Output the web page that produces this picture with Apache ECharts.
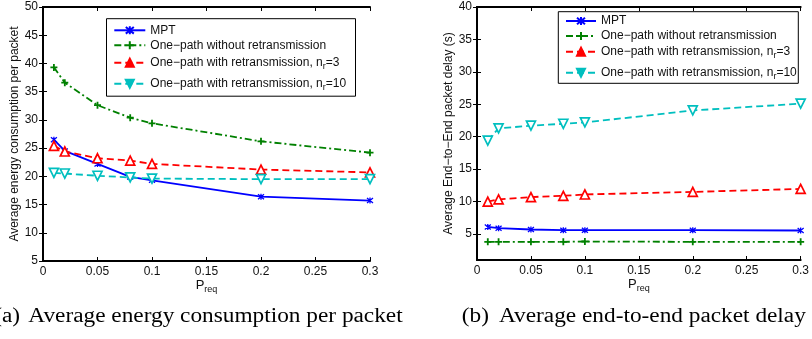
<!DOCTYPE html>
<html><head><meta charset="utf-8">
<script src="https://cdn.jsdelivr.net/npm/echarts@6/dist/echarts.min.js"></script>
<style>html,body{margin:0;padding:0;background:#fff}#c{width:812px;height:339px}</style>
</head><body><div id="c"></div>
<script>
// ---- data ----
const pReq = [0.01, 0.02, 0.05, 0.08, 0.1, 0.2, 0.3];
const seriesNames = ['MPT', 'One−path without retransmission', 'One−path with retransmission, nr=3', 'One−path with retransmission, nr=10'];
const energyMPT = [26.5, 24.5, 22.2, 19.9, 19.3, 16.4, 15.7];
const energyNoRetx = [39.3, 36.6, 32.6, 30.4, 29.4, 26.2, 24.2];
const energyRetx3 = [25.4, 24.4, 23.2, 22.8, 22.2, 21.2, 20.7];
const energyRetx10 = [20.6, 20.5, 20.1, 19.8, 19.6, 19.5, 19.5];
const delayMPT = [6.1, 5.9, 5.7, 5.6, 5.6, 5.6, 5.55];
const delayNoRetx = [3.8, 3.8, 3.8, 3.8, 3.85, 3.8, 3.8];
const delayRetx3 = [10.0, 10.35, 10.7, 10.9, 11.1, 11.5, 11.95];
const delayRetx10 = [19.4, 21.3, 21.7, 22.0, 22.2, 24.05, 25.1];
const energyTicks = [5, 10, 15, 20, 25, 30, 35, 40, 45, 50];
const delayTicks = [5, 10, 15, 20, 25, 30, 35, 40];
const yNames = ['Average energy consumption per packet', 'Average End−to−End packet delay (s)'];
const captionLabels = ['(a)', '(b)'];
const captionTitles = ['Average energy consumption per packet', 'Average end-to-end packet delay'];

// ---- styles / layout ----
const FONT = 'Liberation Sans, Arial, Helvetica, sans-serif';
const SERIF = '20px "Liberation Serif", "Times New Roman", serif';
const colors = ['#0000ff', '#008000', '#ff0000', '#00bfbf'];
const asterisk = 'path://M0,0L10,10M10,0L0,10M5,-1L5,11';
const plus = 'path://M5,0L5,10M0,5L10,5';
const LW = 1.8;
const styleDefs = [
  { symbol: asterisk, symbolSize: 6, rotate: 0, line: { type: 'solid' }, item: { color: colors[0], borderColor: colors[0], borderWidth: 1.3 } },
  { symbol: plus, symbolSize: 7, rotate: 0, line: { type: [7, 3, 2, 3] }, item: { color: colors[1], borderColor: colors[1], borderWidth: 1.8 } },
  { symbol: 'triangle', symbolSize: 9, rotate: 0, line: { type: [7, 4] }, item: { color: '#fff', borderColor: colors[2], borderWidth: 1.7 } },
  { symbol: 'triangle', symbolSize: 9, rotate: 180, line: { type: [7, 4] }, item: { color: '#fff', borderColor: colors[3], borderWidth: 1.7 } }
];

const energySets = [energyMPT, energyNoRetx, energyRetx3, energyRetx10];
const delaySets = [delayMPT, delayNoRetx, delayRetx3, delayRetx10];

function makeSeries(sets, xi, yi) {
  return sets.map((vals, k) => ({
    name: seriesNames[k],
    type: 'line',
    xAxisIndex: xi, yAxisIndex: yi,
    data: pReq.map((x, i) => [x, vals[i]]),
    symbol: styleDefs[k].symbol,
    symbolSize: styleDefs[k].symbolSize,
    symbolRotate: styleDefs[k].rotate,
    showSymbol: true,
    lineStyle: Object.assign({ color: colors[k], width: LW }, styleDefs[k].line),
    itemStyle: styleDefs[k].item,
    emphasis: { disabled: true },
    animation: false
  }));
}

const grids = [
  { left: 43, top: 7, width: 327, height: 254 },
  { left: 477, top: 7, width: 327, height: 253 }
];

const axisLineStyle = { show: true, lineStyle: { color: '#000', width: 2 } };
const tickStyle = { show: true, inside: true, length: 4, lineStyle: { color: '#000', width: 1 } };
const labelStyle = { color: '#111', fontSize: 12, fontFamily: FONT };

function xAxes(gi) {
  return [
    {
      gridIndex: gi, type: 'value', min: 0, max: 0.3, interval: 0.05, position: 'bottom',
      axisLine: axisLineStyle, axisTick: tickStyle, splitLine: { show: false },
      axisLabel: Object.assign({ margin: 5, formatter: v => String(+v.toFixed(2)) }, labelStyle),
      name: '{p|P}{s|req}', nameLocation: 'middle', nameGap: 15, nameMoveOverlap: false,
      nameTextStyle: { rich: { p: { fontSize: 13, fontFamily: FONT, color: '#111' }, s: { fontSize: 9, fontFamily: FONT, color: '#111', padding: [9, 0, 0, 0] } } }
    },
    {
      gridIndex: gi, type: 'value', min: 0, max: 0.3, interval: 0.05, position: 'top',
      axisLine: axisLineStyle, axisTick: tickStyle, axisLabel: { show: false }, splitLine: { show: false }
    }
  ];
}

function yAxes(gi, min, max, ticks, name) {
  const common = { gridIndex: gi, type: 'value', min: min, max: max, splitLine: { show: false } };
  return [
    Object.assign({}, common, {
      position: 'left',
      axisLine: axisLineStyle,
      axisTick: Object.assign({ customValues: ticks }, tickStyle),
      axisLabel: Object.assign({ margin: 5, customValues: ticks }, labelStyle),
      name: name, nameLocation: 'middle', nameGap: 22, nameMoveOverlap: false,
      nameTextStyle: { fontSize: 12, fontFamily: FONT, color: '#111' }
    }),
    Object.assign({}, common, {
      position: 'right',
      axisLine: axisLineStyle,
      axisTick: Object.assign({ customValues: ticks }, tickStyle),
      axisLabel: { show: false }
    })
  ];
}

function legendFormatter(name) {
  const m = name.match(/^(.*n)r(=\d+)$/);
  if (m) return '{t|' + m[1] + '}{s|r}{t|' + m[2] + '}';
  return '{t|' + name + '}';
}

// one single-entry legend per row, so the rows can sit at the reference's uneven spacing
function makeLegends(left, centers, itemWidth) {
  return seriesNames.map((n, k) => ({
    left: left, top: centers[k] - 5, orient: 'vertical',
    padding: 0, itemGap: 0, itemWidth: itemWidth, itemHeight: 10,
    selectedMode: false,
    formatter: legendFormatter,
    textStyle: {
      fontSize: 12, fontFamily: FONT, color: '#111',
      rich: {
        t: { fontSize: 12, fontFamily: FONT, color: '#111', lineHeight: 20 },
        s: { fontSize: 9, fontFamily: FONT, color: '#111', padding: [8, 0, 0, 0] }
      }
    },
    data: [{
      name: n,
      itemStyle: k >= 2 ? { color: colors[k], borderColor: colors[k] } : undefined
    }]
  }));
}

function legendBox(x, y, w, h) {
  return { type: 'rect', z: 3, shape: { x: x, y: y, width: w, height: h }, style: { fill: '#fff', stroke: '#000', lineWidth: 1 } };
}

function caption(labelX, titleX, idx) {
  return [
    { type: 'text', x: labelX, y: 317, scaleX: 1.165, style: { text: captionLabels[idx], font: SERIF, fill: '#000', textAlign: 'right', textVerticalAlign: 'middle' } },
    { type: 'text', x: titleX, y: 317, scaleX: 1.165, style: { text: captionTitles[idx], font: SERIF, fill: '#000', textAlign: 'left', textVerticalAlign: 'middle' } }
  ];
}

const option = {
  animation: false,
  backgroundColor: '#fff',
  grid: grids,
  xAxis: xAxes(0).concat(xAxes(1)),
  yAxis: yAxes(0, 5, 50, energyTicks, yNames[0]).concat(yAxes(1, 1, 40, delayTicks, yNames[1])),
  legend: makeLegends(113.3, [29.3, 44.3, 61.7, 82.7], 31).concat(makeLegends(565, [20, 35, 50.7, 71.7], 30)),
  series: makeSeries(energySets, 0, 0).concat(makeSeries(delaySets, 2, 2)),
  graphic: [legendBox(106.5, 18.7, 249, 77.5), legendBox(558.3, 11.7, 240, 71.6)]
    .concat(caption(20, 28.3, 0)).concat(caption(489, 499, 1))
};

const chart = echarts.init(document.getElementById('c'), null, { renderer: 'canvas' });
chart.setOption(option);
</script>
</body></html>
